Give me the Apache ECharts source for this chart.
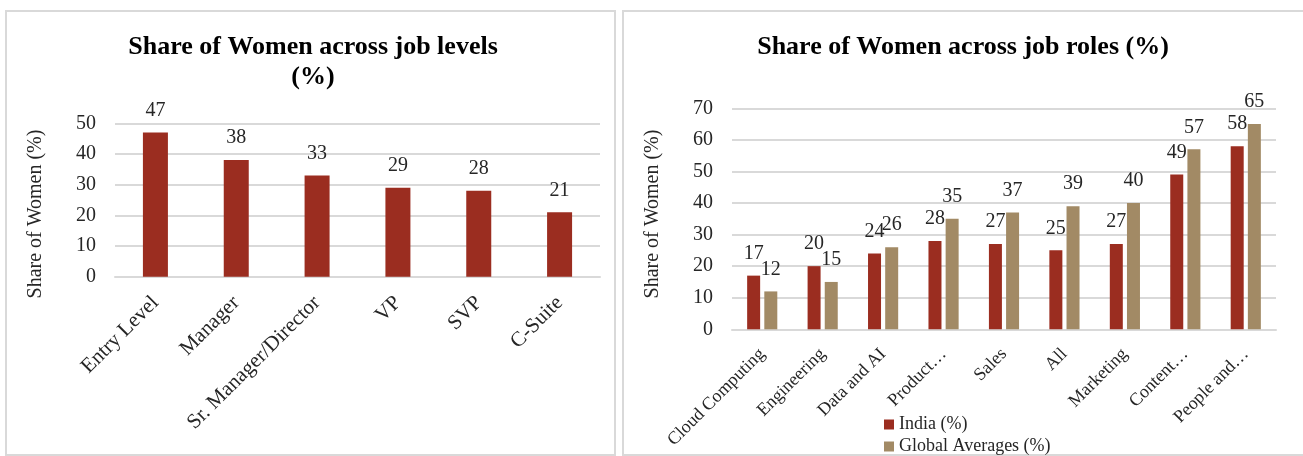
<!DOCTYPE html>
<html>
<head>
<meta charset="utf-8">
<script src="https://cdn.jsdelivr.net/npm/echarts@6/dist/echarts.min.js"></script>
<style>
  html, body { margin: 0; padding: 0; background: #fff; }
  #chart { width: 1303px; height: 456px; }
</style>
</head>
<body>
<div id="chart"></div>
<script>
// Job levels (left panel)
const levelCategories = ['Entry Level', 'Manager', 'Sr. Manager/Director', 'VP', 'SVP', 'C-Suite'];
const levelShare = [47, 38, 33, 29, 28, 21];

// Job roles (right panel)
const roleCategories = ['Cloud Computing', 'Engineering', 'Data and AI', 'Product…', 'Sales', 'All', 'Marketing', 'Content…', 'People and…'];
const indiaShare = [17, 20, 24, 28, 27, 25, 27, 49, 58];
const globalShare = [12, 15, 26, 35, 37, 39, 40, 57, 65];

const FONT = '"Liberation Serif", "Times New Roman", serif';
const TEXT = '#262626';
const GRID_LINE = '#d9d9d9';
const RED = '#9b2d20';
const TAN = '#a28a65';

const chart = echarts.init(document.getElementById('chart'), null, { renderer: 'canvas' });

function valueAxis(gridIndex, max) {
  return {
    type: 'value', gridIndex, min: 0, max, interval: 10,
    axisLine: { show: false }, axisTick: { show: false },
    axisLabel: { color: TEXT, fontFamily: FONT, fontSize: 20, margin: 19 },
    splitLine: { lineStyle: { color: GRID_LINE, width: 2 } }
  };
}
function categoryAxis(gridIndex, data, fontSize, margin) {
  return {
    type: 'category', gridIndex, data,
    axisLine: { lineStyle: { color: GRID_LINE, width: 2 } },
    axisTick: { show: false },
    axisLabel: { interval: 0, rotate: 45, color: TEXT, fontFamily: FONT, fontSize, margin }
  };
}
const barLabel = { show: true, position: 'top', distance: 12, color: TEXT, fontFamily: FONT, fontSize: 20 };
const legendText = { color: TEXT, fontFamily: FONT, fontSize: 18, lineHeight: 18 };
const legendBase = { left: 884, padding: 0, itemWidth: 10, itemHeight: 10, icon: 'rect', textStyle: legendText };

chart.setOption({
  animation: false,
  backgroundColor: '#fff',
  textStyle: { fontFamily: FONT },
  grid: [
    { left: 115, top: 123.3, width: 485, height: 153.4 },
    { left: 732, top: 108.3, width: 544, height: 221 }
  ],
  xAxis: [categoryAxis(0, levelCategories, 21, 23), categoryAxis(1, roleCategories, 18, 22)],
  yAxis: [valueAxis(0, 50), valueAxis(1, 70)],
  legend: [
    Object.assign({ data: ['India (%)'], top: 415.5 }, legendBase),
    Object.assign({ data: ['Global Averages (%)'], top: 437.5 }, legendBase)
  ],
  series: [
    { type: 'bar', xAxisIndex: 0, yAxisIndex: 0, data: levelShare, barWidth: 25,
      itemStyle: { color: RED }, label: barLabel },
    { type: 'bar', name: 'India (%)', xAxisIndex: 1, yAxisIndex: 1, data: indiaShare,
      barWidth: 13, barGap: '32%', itemStyle: { color: RED }, label: barLabel },
    { type: 'bar', name: 'Global Averages (%)', xAxisIndex: 1, yAxisIndex: 1, data: globalShare,
      barWidth: 13, barGap: '32%', itemStyle: { color: TAN }, label: barLabel }
  ],
  graphic: [
    // panel frames
    { type: 'rect', shape: { x: 6, y: 11, width: 609, height: 444 }, silent: true,
      style: { fill: 'none', stroke: GRID_LINE, lineWidth: 2 } },
    { type: 'rect', shape: { x: 623, y: 11, width: 700, height: 444 }, silent: true,
      style: { fill: 'none', stroke: GRID_LINE, lineWidth: 2 } },
    // titles
    { type: 'text', x: 313, y: 47, style: { text: 'Share of Women across job levels', font: 'bold 26px ' + FONT,
      fill: '#000', textAlign: 'center', textVerticalAlign: 'middle' } },
    { type: 'text', x: 313, y: 77, style: { text: '(%)', font: 'bold 26px ' + FONT,
      fill: '#000', textAlign: 'center', textVerticalAlign: 'middle' } },
    { type: 'text', x: 963, y: 47, style: { text: 'Share of Women across job roles (%)', font: 'bold 26px ' + FONT,
      fill: '#000', textAlign: 'center', textVerticalAlign: 'middle' } },
    // axis titles
    { type: 'text', x: 36, y: 214, rotation: Math.PI / 2, style: { text: 'Share of Women (%)', font: '20px ' + FONT,
      fill: TEXT, textAlign: 'center', textVerticalAlign: 'middle' } },
    { type: 'text', x: 653, y: 214, rotation: Math.PI / 2, style: { text: 'Share of Women (%)', font: '20px ' + FONT,
      fill: TEXT, textAlign: 'center', textVerticalAlign: 'middle' } }
  ]
});
</script>
</body>
</html>
